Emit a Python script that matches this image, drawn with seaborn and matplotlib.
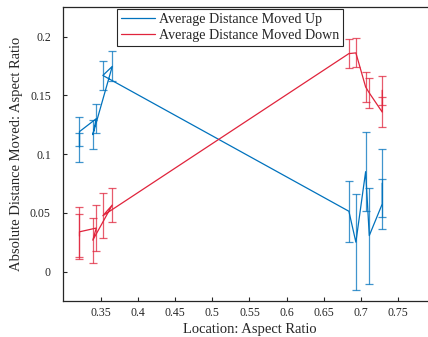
import numpy as np
import pandas as pd
import matplotlib
matplotlib.use("Agg")
import matplotlib.pyplot as plt
import seaborn as sns

# Aspect-ratio locations, listed in measurement order (shared by both series)
location = [0.3217, 0.3217, 0.3442, 0.3396, 0.3657, 0.3531,
            0.6836, 0.6930, 0.7061, 0.7110, 0.7284, 0.7284]

# Mean absolute distance moved and error half-widths
moved_up = [0.1059, 0.1192, 0.1302, 0.1166, 0.1747, 0.1670,
            0.0514, 0.0251, 0.0851, 0.0307, 0.0576, 0.0753]
moved_up_err = [0.0125, 0.0126, 0.0124, 0.0124, 0.0128, 0.0125,
                0.0258, 0.0408, 0.0334, 0.0409, 0.0216, 0.0291]

moved_down = [0.0302, 0.0339, 0.0371, 0.0268, 0.0567, 0.0476,
              0.1856, 0.1862, 0.1572, 0.1521, 0.1358, 0.1544]
moved_down_err = [0.0192, 0.0211, 0.0195, 0.0192, 0.0144, 0.0192,
                  0.0124, 0.0124, 0.0124, 0.0124, 0.0125, 0.0124]

series_names = ["Average Distance Moved Up", "Average Distance Moved Down"]
series_colors = ["#0072BD", "#E0243C"]

x_ticks = [0.35, 0.4, 0.45, 0.5, 0.55, 0.6, 0.65, 0.7, 0.75]
x_tick_labels = ["0.35", "0.4", "0.45", "0.5", "0.55", "0.6", "0.65", "0.7", "0.75"]
y_ticks = [0, 0.05, 0.1, 0.15, 0.2]
y_tick_labels = ["0", "0.05", "0.1", "0.15", "0.2"]

df = pd.DataFrame({
    "location": location * 2,
    "distance": moved_up + moved_down,
    "err": moved_up_err + moved_down_err,
    "series": [series_names[0]] * len(location) + [series_names[1]] * len(location),
})

sns.set_style("white")
plt.rcParams["font.family"] = ["Liberation Serif", "DejaVu Serif"]

fig = plt.figure(figsize=(4.28, 3.37), dpi=100)
ax = fig.add_axes([0.148, 0.1068, 0.8696, 0.8715])

palette = dict(zip(series_names, series_colors))

# connecting lines, drawn in measurement order
sns.lineplot(data=df, x="location", y="distance", hue="series",
             hue_order=series_names, palette=palette, sort=False,
             estimator=None, units="series", linewidth=0.9, legend=False, ax=ax)

# error bars
for name in series_names:
    sub = df[df["series"] == name]
    ax.errorbar(sub["location"], sub["distance"], yerr=sub["err"], fmt="none",
                ecolor=palette[name], elinewidth=0.9, capsize=2.6,
                capthick=0.9, alpha=0.75, zorder=1.5)

ax.set_xlim(0.3, 0.8)
ax.set_ylim(-0.025, 0.225)
ax.set_xticks(x_ticks)
ax.set_xticklabels(x_tick_labels)
ax.set_yticks(y_ticks)
ax.set_yticklabels(y_tick_labels)
ax.tick_params(axis="both", which="major", bottom=True, left=True,
               top=False, right=False, direction="in", length=3, width=0.8,
               color="#262626", labelsize=8.5, labelcolor="#262626")
ax.tick_params(axis="x", pad=4)
ax.tick_params(axis="y", pad=9)

for side in ["left", "bottom", "top", "right"]:
    ax.spines[side].set_color("#262626")
    ax.spines[side].set_linewidth(0.9)

ax.set_xlabel("Location: Aspect Ratio", fontsize=10.5, color="#262626", labelpad=3)
ax.set_ylabel("Absolute Distance Moved: Aspect Ratio", fontsize=10.5,
              color="#262626", labelpad=5)

handles = [plt.Line2D([], [], color=c, linewidth=0.9) for c in series_colors]
leg = ax.legend(handles, series_names, loc="upper center",
                bbox_to_anchor=(0.448, 0.995), borderaxespad=0,
                fontsize=10.1, fancybox=False, framealpha=1,
                edgecolor="#262626", handlelength=2.4, handletextpad=0.3,
                labelspacing=0.22, borderpad=0.3)
leg.get_frame().set_linewidth(0.8)

fig.savefig("out.png", dpi=100)
